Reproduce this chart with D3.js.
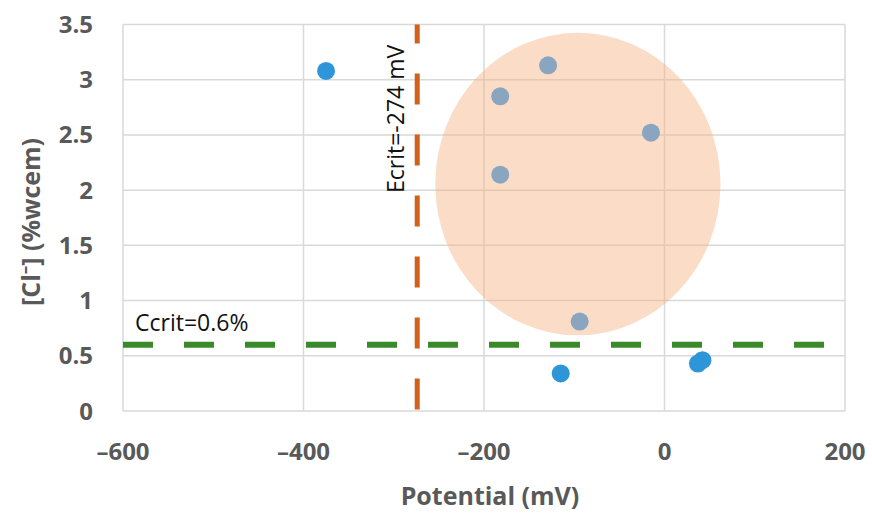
<!DOCTYPE html>
<html>
  <head>
    <meta charset="utf-8">
    <title>Cl vs potential</title>
    <script src="https://d3js.org/d3.v7.min.js"></script>
    <style>
      body { margin: 0; background: #fff; }
      text { font-family: "Open Sans", Lato, sans-serif; }
    </style>
  </head>
  <body>
    <script>
    // data
    var bluePts = [[-375, 3.08], [-115, 0.34], [37, 0.43], [42, 0.46]]
    var greyPts = [[-129, 3.13], [-182, 2.85], [-15, 2.52], [-182, 2.14], [-94, 0.81]]
    var xTicks = [-600, -400, -200, 0, 200]
    var yTicks = [0, 0.5, 1, 1.5, 2, 2.5, 3, 3.5]
    var eCrit = -274
    var cCrit = 0.6
    var cLineEnd = 178
    // cluster highlight: centre and radii in data units
    var cluster = {cx: -96, cy: 2.055, rx: 158, ry: 1.37}

    var width = 872,
        height = 514,
        mLeft = 123, mRight = 845, mTop = 24.5, mBottom = 411

    var svg = d3.select("body").append("svg")
                .attr("width", width)
                .attr("height", height)

    var x = d3.scaleLinear().domain([-600, 200]).range([mLeft, mRight])
    var y = d3.scaleLinear().domain([0, 3.5]).range([mBottom, mTop])

    //grid
    svg.append("g").selectAll("line").data(yTicks).enter().append("line")
      .attr("x1", mLeft).attr("x2", mRight)
      .attr("y1", d => y(d)).attr("y2", d => y(d))
      .attr("stroke", "#d9d9d9").attr("stroke-width", 1.5)
    svg.append("g").selectAll("line").data(xTicks).enter().append("line")
      .attr("y1", mTop).attr("y2", mBottom)
      .attr("x1", d => x(d)).attr("x2", d => x(d))
      .attr("stroke", "#d9d9d9").attr("stroke-width", 1.5)

    // tick labels
    var fmt = d => (d < 0 ? "\u2013" + Math.abs(d) : "" + d)
    svg.append("g").selectAll("text").data(yTicks).enter().append("text")
      .attr("x", 93).attr("y", d => y(d) + 8.5)
      .attr("text-anchor", "end")
      .attr("font-size", 24).attr("font-weight", "bold").attr("fill", "#595959")
      .text(d => d)
    svg.append("g").selectAll("text").data(xTicks).enter().append("text")
      .attr("x", d => x(d)).attr("y", 460)
      .attr("text-anchor", "middle")
      .attr("font-size", 24).attr("font-weight", "bold").attr("fill", "#595959")
      .text(fmt)

    // axis titles
    svg.append("text")
      .attr("x", 490).attr("y", 505)
      .attr("text-anchor", "middle")
      .attr("font-size", 25).attr("font-weight", "bold").attr("fill", "#595959")
      .text("Potential (mV)")
    var yTitle = svg.append("text")
      .attr("transform", "translate(40,222) rotate(-90)")
      .attr("text-anchor", "middle")
      .attr("font-size", 25).attr("font-weight", "bold").attr("fill", "#595959")
    yTitle.append("tspan").text("[Cl")
    yTitle.append("tspan").attr("dy", -9).attr("font-size", 17).text("\u2013")
    yTitle.append("tspan").attr("dy", 9).text("] (%wcem)")

    // cluster ellipse
    svg.append("ellipse")
      .attr("cx", x(cluster.cx)).attr("cy", y(cluster.cy))
      .attr("rx", x(cluster.cx + cluster.rx) - x(cluster.cx))
      .attr("ry", y(0) - y(cluster.ry))
      .attr("fill", "#f4b183").attr("fill-opacity", 0.45)

    // critical lines
    svg.append("line")
      .attr("x1", x(eCrit)).attr("x2", x(eCrit))
      .attr("y1", y(3.5)).attr("y2", y(0))
      .attr("stroke", "#d2601a").attr("stroke-width", 5)
      .attr("stroke-dasharray", "31,30")
      .attr("stroke-dashoffset", 12)
    svg.append("line")
      .attr("x1", x(-600)).attr("x2", x(cLineEnd))
      .attr("y1", y(cCrit)).attr("y2", y(cCrit))
      .attr("stroke", "#3a8a2c").attr("stroke-width", 6)
      .attr("stroke-dasharray", "30,31")
      .attr("stroke-linecap", "butt")

    svg.append("text")
      .attr("x", 135).attr("y", 331)
      .attr("font-size", 23).attr("fill", "#111")
      .text("Ccrit=" + cCrit + "%")
    svg.append("text")
      .attr("transform", "translate(404,193) rotate(-90)")
      .attr("font-size", 23).attr("fill", "#111")
      .text("Ecrit=" + eCrit + " mV")

    // points
    svg.append("g").selectAll("circle").data(greyPts).enter().append("circle")
      .attr("cx", d => x(d[0])).attr("cy", d => y(d[1]))
      .attr("r", 9).attr("fill", "#8aa5bf")
    svg.append("g").selectAll("circle").data(bluePts).enter().append("circle")
      .attr("cx", d => x(d[0])).attr("cy", d => y(d[1]))
      .attr("r", 9).attr("fill", "#2e96d8")
    </script>
  </body>
</html>
